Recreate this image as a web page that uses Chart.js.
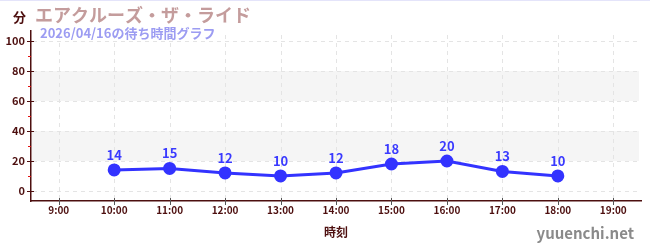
<!DOCTYPE html>
<html>
<head>
<meta charset="utf-8">
<script src="https://cdn.jsdelivr.net/npm/chart.js@4/dist/chart.umd.min.js"></script>
<style>
  html, body { margin: 0; padding: 0; background: #fff; }
  body { border-top: 1px solid #e4e4fa; box-sizing: border-box; }
  #wrap { width: 650px; height: 249px; }
</style>
</head>
<body>
<div id="wrap"><canvas id="wait-chart"></canvas></div>
<script>
var titleText = "エアクルーズ・ザ・ライド";
var subtitleText = "2026/04/16の待ち時間グラフ";
var yUnit = "分";
var xTitle = "時刻";
var siteName = "yuuenchi.net";

var hours = [10, 11, 12, 13, 14, 15, 16, 17, 18];
var waits = [14, 15, 12, 10, 12, 18, 20, 13, 10];
var xTicks = [9, 10, 11, 12, 13, 14, 15, 16, 17, 18, 19];
var yTicks = [0, 20, 40, 60, 80, 100];
var yMinorTicks = [10, 30, 50, 70, 90];
var bands = [[20, 40], [60, 80]];

var FONT = "'Noto Sans CJK JP', 'Noto Sans', sans-serif";
var DARK = "#4d0f0f";

// dashed grid drawn as small rects
function dashH(ctx, x1, x2, py) {
  for (var px = x1; px < x2; px += 8) ctx.fillRect(px, py, Math.min(4, x2 - px), 1);
}
function dashV(ctx, px, y1, y2) {
  for (var py = y1; py < y2; py += 8) ctx.fillRect(px, py, 1, Math.min(4, y2 - py));
}

var decor = {
  id: "decor",
  beforeDatasetsDraw: function (chart) {
    var ctx = chart.ctx, a = chart.chartArea;
    var x = chart.scales.x, y = chart.scales.y;
    ctx.save();
    ctx.beginPath();
    ctx.rect(a.left + 1, a.top + 2, a.right - a.left - 3, a.bottom - a.top - 3);
    ctx.clip();
    ctx.fillStyle = "#f5f5f5";
    bands.forEach(function (b) {
      var top = y.getPixelForValue(b[1]), bot = y.getPixelForValue(b[0]);
      ctx.fillRect(a.left, top, a.right - a.left, bot - top);
    });
    ctx.fillStyle = "#e4e4e4";
    yTicks.forEach(function (v) {
      if (v <= y.min || v >= y.max) return;
      dashH(ctx, a.left + 2, a.right - 3, Math.round(y.getPixelForValue(v)));
    });
    xTicks.forEach(function (v) {
      if (v <= x.min || v >= x.max) return;
      dashV(ctx, Math.round(x.getPixelForValue(v)), a.top + 4, a.bottom);
    });
    ctx.restore();
  },
  afterDraw: function (chart) {
    var ctx = chart.ctx, a = chart.chartArea;
    var x = chart.scales.x, y = chart.scales.y;
    ctx.save();
    ctx.lineWidth = 1;
    ctx.strokeStyle = DARK;
    yTicks.forEach(function (v) {
      var py = Math.round(y.getPixelForValue(v)) + 0.5;
      ctx.beginPath(); ctx.moveTo(a.left - 4, py); ctx.lineTo(a.left + 3, py); ctx.stroke();
    });
    ctx.strokeStyle = "#e01010";
    yMinorTicks.forEach(function (v) {
      var py = Math.round(y.getPixelForValue(v)) + 0.5;
      ctx.beginPath(); ctx.moveTo(a.left - 3, py); ctx.lineTo(a.left, py); ctx.stroke();
    });
    ctx.strokeStyle = "#555";
    xTicks.forEach(function (v) {
      var px = Math.round(x.getPixelForValue(v)) + 0.5;
      ctx.beginPath(); ctx.moveTo(px, a.bottom - 3); ctx.lineTo(px, a.bottom + 4); ctx.stroke();
    });
    // data labels
    ctx.fillStyle = "#3a3aff";
    ctx.font = "bold 13px " + FONT;
    ctx.textAlign = "center";
    ctx.textBaseline = "alphabetic";
    hours.forEach(function (h, i) {
      ctx.fillText(String(waits[i]), x.getPixelForValue(h), y.getPixelForValue(waits[i]) - 10);
    });
    // titles
    ctx.textAlign = "left";
    ctx.fillStyle = DARK;
    ctx.font = "bold 13px " + FONT;
    ctx.fillText(yUnit, 13, 21);
    ctx.fillStyle = "#c49c9c";
    ctx.font = "bold 18px " + FONT;
    ctx.fillText(titleText, 35, 21);
    ctx.fillStyle = "#9c9cf2";
    ctx.font = "bold 13px " + FONT;
    ctx.fillText(subtitleText, 40, 37);
    ctx.textAlign = "center";
    ctx.fillStyle = DARK;
    ctx.font = "bold 12px " + FONT;
    ctx.fillText(xTitle, (a.left + a.right) / 2, 236);
    ctx.textAlign = "right";
    ctx.fillStyle = "#8a8a8a";
    ctx.font = "bold 15px " + FONT;
    ctx.fillText(siteName, 634, 238);
    ctx.restore();
  }
};

new Chart(document.getElementById("wait-chart"), {
  type: "line",
  data: {
    datasets: [{
      data: hours.map(function (h, i) { return { x: h, y: waits[i] }; }),
      borderColor: "#3333ff",
      backgroundColor: "#3333ff",
      borderWidth: 3,
      pointRadius: 5,
      pointHoverRadius: 5,
      tension: 0
    }]
  },
  options: {
    responsive: true,
    maintainAspectRatio: false,
    animation: false,
    layout: { padding: { top: 30, right: 9, left: 0, bottom: 0 } },
    plugins: { legend: { display: false }, tooltip: { enabled: false } },
    scales: {
      x: {
        type: "linear",
        min: 8.5,
        max: 19.5,
        afterBuildTicks: function (s) { s.ticks = xTicks.map(function (v) { return { value: v }; }); },
        afterFit: function (s) { s.height = 49; },
        grid: { display: false },
        border: { display: true, color: DARK, width: 1.5 },
        ticks: {
          padding: -5,
          color: DARK,
          font: { family: FONT, size: 10, weight: "bold" },
          callback: function (v) { return v + ":00"; }
        }
      },
      y: {
        min: -6.7,
        max: 106.7,
        afterBuildTicks: function (s) { s.ticks = yTicks.map(function (v) { return { value: v }; }); },
        afterFit: function (s) { s.width = 31; },
        grid: { display: false },
        border: { display: true, color: DARK, width: 1.5 },
        ticks: {
          padding: -2,
          color: DARK,
          font: { family: FONT, size: 11, weight: "bold" }
        }
      }
    }
  },
  plugins: [decor]
});
</script>
</body>
</html>
